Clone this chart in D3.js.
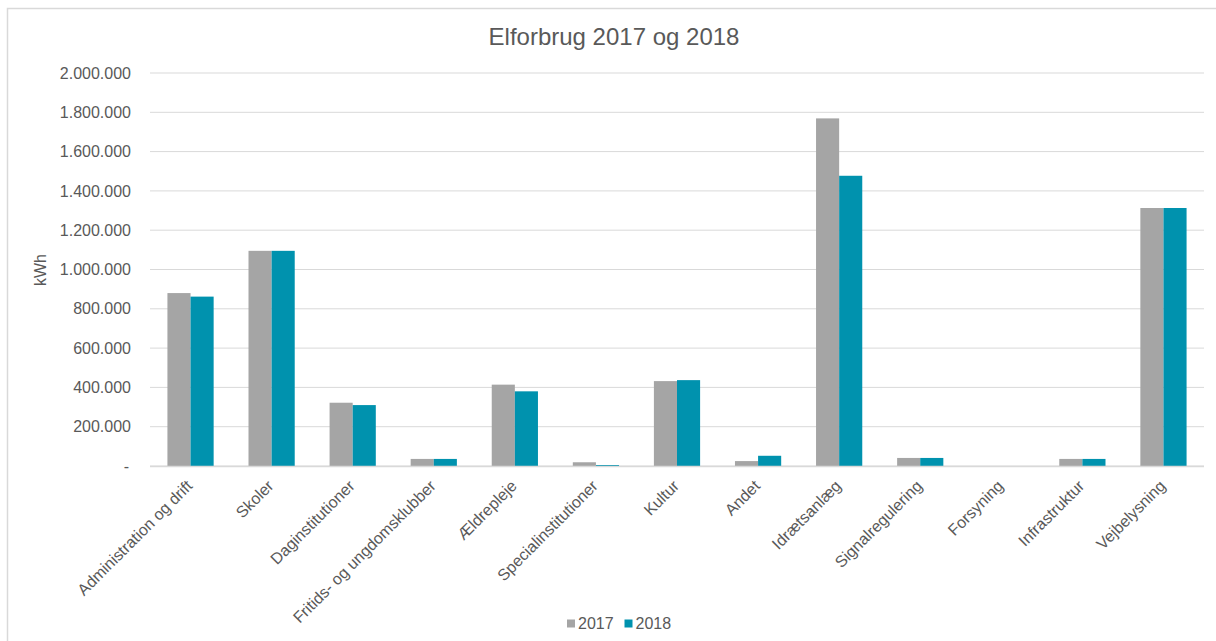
<!DOCTYPE html>
<html>
<head>
  <meta charset="utf-8">
  <style>
    body { margin: 0; background: #fff; }
    text { font-family: "Liberation Sans", Arial, sans-serif; fill: #595959; }
  </style>
  <script src="https://d3js.org/d3.v7.min.js"></script>
</head>
<body>
  <svg id="svg" width="1216" height="641"></svg>
  <script>
    let categories = ["Administration og drift", "Skoler", "Daginstitutioner", "Fritids- og ungdomsklubber",
      "Ældrepleje", "Specialinstitutioner", "Kultur", "Andet", "Idrætsanlæg", "Signalregulering",
      "Forsyning", "Infrastruktur", "Vejbelysning"];
    let values2017 = [880000, 1095000, 322000, 36000, 414000, 19000, 432000, 25000, 1769000, 41000, 0, 36000, 1313000];
    let values2018 = [862000, 1095000, 310000, 36000, 380000, 5000, 437000, 52000, 1477000, 41000, 0, 36000, 1313000];
    let series = ["2017", "2018"];
    let colors = ["#a5a5a5", "#0092ae"];
    let yTicks = [0, 200000, 400000, 600000, 800000, 1000000, 1200000, 1400000, 1600000, 1800000, 2000000];

    let svg = d3.select("#svg");

    // outer frame (cut off at right and bottom like the original)
    svg.append("rect")
      .attr("x", 7.5).attr("y", 8.5)
      .attr("width", 1300).attr("height", 700)
      .attr("fill", "none")
      .attr("stroke", "#d9d9d9")
      .attr("stroke-width", 1.5);

    let plotLeft = 150, plotRight = 1204, plotTop = 73, plotBottom = 466;

    let x = d3.scaleBand().domain(categories).range([plotLeft, plotRight]).paddingInner(0.43).paddingOuter(0.215);
    let xInner = d3.scaleBand().domain(series).range([0, x.bandwidth()]);
    let y = d3.scaleLinear().domain([0, 2000000]).range([plotBottom, plotTop]);

    let fmt = d => d === 0 ? "-" : d3.format(",")(d).replace(/,/g, ".");

    // gridlines
    svg.append("g").selectAll("line")
      .data(yTicks)
      .enter()
      .append("line")
      .attr("x1", plotLeft).attr("x2", plotRight)
      .attr("y1", d => y(d)).attr("y2", d => y(d))
      .attr("stroke", "#d9d9d9")
      .attr("stroke-width", 1);

    // y tick labels
    svg.append("g").selectAll("text")
      .data(yTicks)
      .enter()
      .append("text")
      .attr("x", d => d === 0 ? 129 : 131)
      .attr("y", d => y(d))
      .attr("dy", "0.35em")
      .attr("text-anchor", "end")
      .style("font-size", "16px")
      .text(fmt);

    // bars
    let groups = svg.append("g").selectAll("g")
      .data(categories)
      .enter()
      .append("g")
      .attr("transform", d => "translate(" + x(d) + ",0)");

    groups.selectAll("rect")
      .data((d, i) => [values2017[i], values2018[i]])
      .enter()
      .append("rect")
      .attr("x", (d, i) => xInner(series[i]))
      .attr("width", xInner.bandwidth())
      .attr("y", d => y(d))
      .attr("height", d => plotBottom - y(d))
      .attr("fill", (d, i) => colors[i]);

    // axis baseline
    svg.append("line")
      .attr("x1", plotLeft).attr("x2", plotRight)
      .attr("y1", plotBottom + 0.5).attr("y2", plotBottom + 0.5)
      .attr("stroke", "#d9d9d9")
      .attr("stroke-width", 1.5);

    // x labels, rotated
    svg.append("g").selectAll("text")
      .data(categories)
      .enter()
      .append("text")
      .attr("transform", d => "translate(" + (x(d) + x.bandwidth() / 2 - 1) + "," + (plotBottom + 17) + ") rotate(-45)")
      .attr("text-anchor", "end")
      .attr("dy", "0.35em")
      .style("font-size", "16px")
      .text(d => d);

    // title
    svg.append("text")
      .attr("x", 614).attr("y", 45)
      .attr("text-anchor", "middle")
      .style("font-size", "24px")
      .text("Elforbrug 2017 og 2018");

    // y axis title
    svg.append("text")
      .attr("transform", "translate(40,270) rotate(-90)")
      .attr("text-anchor", "middle")
      .attr("dy", "0.35em")
      .style("font-size", "16px")
      .text("kWh");

    // legend
    let legend = svg.append("g").attr("transform", "translate(567,623)");
    series.forEach((s, i) => {
      let g = legend.append("g").attr("transform", "translate(" + (i * 57.5) + ",0)");
      g.append("rect").attr("x", 0).attr("y", -3.5).attr("width", 8).attr("height", 8).attr("fill", colors[i]);
      g.append("text").attr("x", 11).attr("y", 0).attr("dy", "0.35em").style("font-size", "16px").text(s);
    });
  </script>
</body>
</html>
